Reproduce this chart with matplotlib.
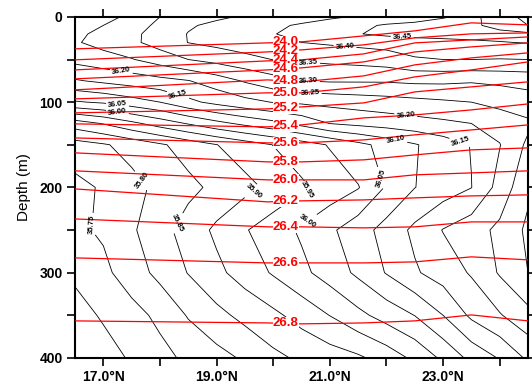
import numpy as np
import matplotlib
matplotlib.use("Agg")
import matplotlib.pyplot as plt
from matplotlib.ticker import FixedLocator, MultipleLocator

plt.rcParams["font.family"] = ["Liberation Sans", "DejaVu Sans"]

# salinity section, grid
lats = [16.5, 17.0, 17.5, 18.0, 18.5, 19.0, 19.5, 20.0, 20.5,
        21.0, 21.5, 22.0, 22.5, 23.0, 23.5, 24.0, 24.5]
depths = [0, 10, 20, 30, 50, 75, 100, 125, 150, 200, 250, 300, 350, 400]
salt = [
    [36.220, 36.237, 36.259, 36.300, 36.320, 36.341, 36.356, 36.368, 36.380, 36.392, 36.405, 36.419, 36.433, 36.447, 36.460, 36.430, 36.380],
    [36.235, 36.250, 36.280, 36.310, 36.344, 36.362, 36.376, 36.391, 36.406, 36.423, 36.440, 36.455, 36.460, 36.465, 36.460, 36.433, 36.400],
    [36.240, 36.262, 36.289, 36.320, 36.352, 36.368, 36.383, 36.398, 36.415, 36.431, 36.448, 36.460, 36.468, 36.470, 36.470, 36.465, 36.460],
    [36.245, 36.267, 36.290, 36.320, 36.351, 36.364, 36.376, 36.388, 36.400, 36.407, 36.414, 36.420, 36.427, 36.434, 36.441, 36.448, 36.452],
    [36.215, 36.230, 36.247, 36.273, 36.300, 36.317, 36.335, 36.351, 36.356, 36.362, 36.367, 36.375, 36.395, 36.400, 36.400, 36.398, 36.400],
    [36.145, 36.160, 36.173, 36.185, 36.198, 36.225, 36.255, 36.280, 36.300, 36.305, 36.305, 36.305, 36.310, 36.310, 36.305, 36.310, 36.315],
    [36.045, 36.057, 36.078, 36.100, 36.138, 36.164, 36.185, 36.202, 36.208, 36.215, 36.222, 36.229, 36.236, 36.243, 36.250, 36.265, 36.280],
    [35.875, 35.903, 35.938, 35.972, 36.004, 36.035, 36.062, 36.085, 36.116, 36.151, 36.163, 36.172, 36.181, 36.190, 36.200, 36.220, 36.240],
    [35.780, 35.795, 35.817, 35.843, 35.871, 35.899, 35.925, 35.951, 35.976, 36.004, 36.036, 36.067, 36.096, 36.124, 36.152, 36.198, 36.260],
    [35.735, 35.756, 35.785, 35.812, 35.837, 35.862, 35.886, 35.912, 35.942, 35.970, 35.997, 36.055, 36.099, 36.124, 36.149, 36.218, 36.290],
    [35.740, 35.757, 35.793, 35.832, 35.871, 35.910, 35.946, 35.977, 36.007, 36.041, 36.078, 36.118, 36.161, 36.202, 36.229, 36.261, 36.310],
    [35.710, 35.738, 35.776, 35.814, 35.852, 35.888, 35.922, 35.955, 35.988, 36.022, 36.060, 36.103, 36.144, 36.173, 36.205, 36.255, 36.300],
    [35.680, 35.706, 35.732, 35.762, 35.804, 35.836, 35.864, 35.889, 35.919, 35.951, 35.987, 36.020, 36.051, 36.100, 36.160, 36.196, 36.235],
    [35.652, 35.679, 35.706, 35.734, 35.761, 35.783, 35.807, 35.838, 35.859, 35.876, 35.892, 35.921, 35.961, 36.010, 36.064, 36.104, 36.159],
]

# isopycnal depths (m) at a few latitudes
sig_lats = [16.5, 19.9, 20.5, 21.6, 22.5, 23.5, 24.5]
sig_levels = [24.0, 24.2, 24.4, 24.6, 24.8, 25.0, 25.2, 25.4,
              25.6, 25.8, 26.0, 26.2, 26.4, 26.6, 26.8]
sig_depths = [
    [37.5, 30.5, 29.3, 22.3, 16.4, 7.0, 9.4],
    [50.4, 41.1, 38.7, 32.8, 24.6, 19.9, 18.8],
    [62.2, 51.6, 50.4, 43.4, 30.5, 27.0, 23.5],
    [72.7, 62.2, 59.8, 52.8, 41.1, 35.2, 30.5],
    [85.6, 73.9, 76.2, 69.2, 56.3, 48.1, 42.2],
    [96.2, 89.1, 89.1, 82.1, 70.4, 62.2, 52.8],
    [112.6, 107.9, 105.6, 100.9, 88.0, 82.1, 76.2],
    [125.5, 129.0, 126.7, 118.5, 115.0, 109.1, 102.1],
    [142.0, 147.8, 147.8, 144.3, 138.4, 132.6, 126.7],
    [159.5, 170.1, 170.1, 167.7, 161.9, 156.0, 153.7],
    [180.6, 191.2, 191.2, 191.2, 185.3, 183.0, 180.6],
    [201.8, 217.0, 215.8, 214.7, 212.3, 210.0, 208.8],
    [237.0, 246.3, 246.3, 247.5, 246.3, 240.5, 240.5],
    [282.7, 288.6, 288.6, 288.6, 287.4, 281.5, 285.0],
    [356.6, 359.0, 360.1, 359.0, 356.6, 349.6, 356.6],
]
sig_label_lat = 20.22

# where the salinity labels sit
salt_label_pos = [
    (17.30, 71.6), (18.30, 96.0), (17.25, 103.0), (17.25, 111.0),
    (17.70, 191.0), (16.89, 244.0), (18.30, 242.0), (19.67, 205.0),
    (20.63, 206.0), (20.61, 240.0), (21.95, 188.0), (22.16, 147.0),
    (22.33, 122.0), (23.30, 148.0), (22.28, 24.6), (21.26, 41.0),
    (20.62, 55.0), (20.62, 76.0), (20.65, 92.0),
]

salt_levels = np.round(np.arange(35.60, 36.56, 0.05), 2)

fig = plt.figure(figsize=(5.32, 3.89), dpi=100)
ax = fig.add_axes([0.141, 0.080, 0.8515, 0.8766])

cs = ax.contour(lats, depths, np.array(salt), levels=salt_levels,
                colors="black", linewidths=0.6, zorder=3)
cl = ax.clabel(cs, fmt="%.2f", fontsize=5.5, manual=salt_label_pos,
               inline=True, inline_spacing=2)
for t in cl:
    t.set_fontweight("bold")
    t.set_zorder(7)

for lev, dep in zip(sig_levels, sig_depths):
    ax.plot(sig_lats, dep, color="red", lw=0.9, zorder=4)
    yl = np.interp(sig_label_lat, sig_lats, dep)
    ax.text(sig_label_lat, yl, f"{lev:.1f}", color="red", fontsize=9.5,
            fontweight="bold", ha="center", va="center", zorder=6,
            bbox=dict(facecolor="white", edgecolor="none", pad=0.0))

ax.set_xlim(16.5, 24.5)
ax.set_ylim(400, 0)

ax.xaxis.set_major_locator(FixedLocator([17, 19, 21, 23]))
ax.xaxis.set_minor_locator(FixedLocator([18, 20, 22, 24]))
ax.set_xticklabels(["17.0°N", "19.0°N", "21.0°N", "23.0°N"])
ax.yaxis.set_major_locator(MultipleLocator(100))
ax.yaxis.set_minor_locator(MultipleLocator(50))
ax.tick_params(which="both", direction="out", length=6, width=1.2,
               top=True, right=True, labelsize=10, pad=3)
for lab in ax.get_xticklabels() + ax.get_yticklabels():
    lab.set_fontweight("bold")
for sp in ax.spines.values():
    sp.set_linewidth(1.5)

ax.set_ylabel("Depth (m)", fontsize=11, labelpad=6)

fig.savefig("out.png", dpi=100)
